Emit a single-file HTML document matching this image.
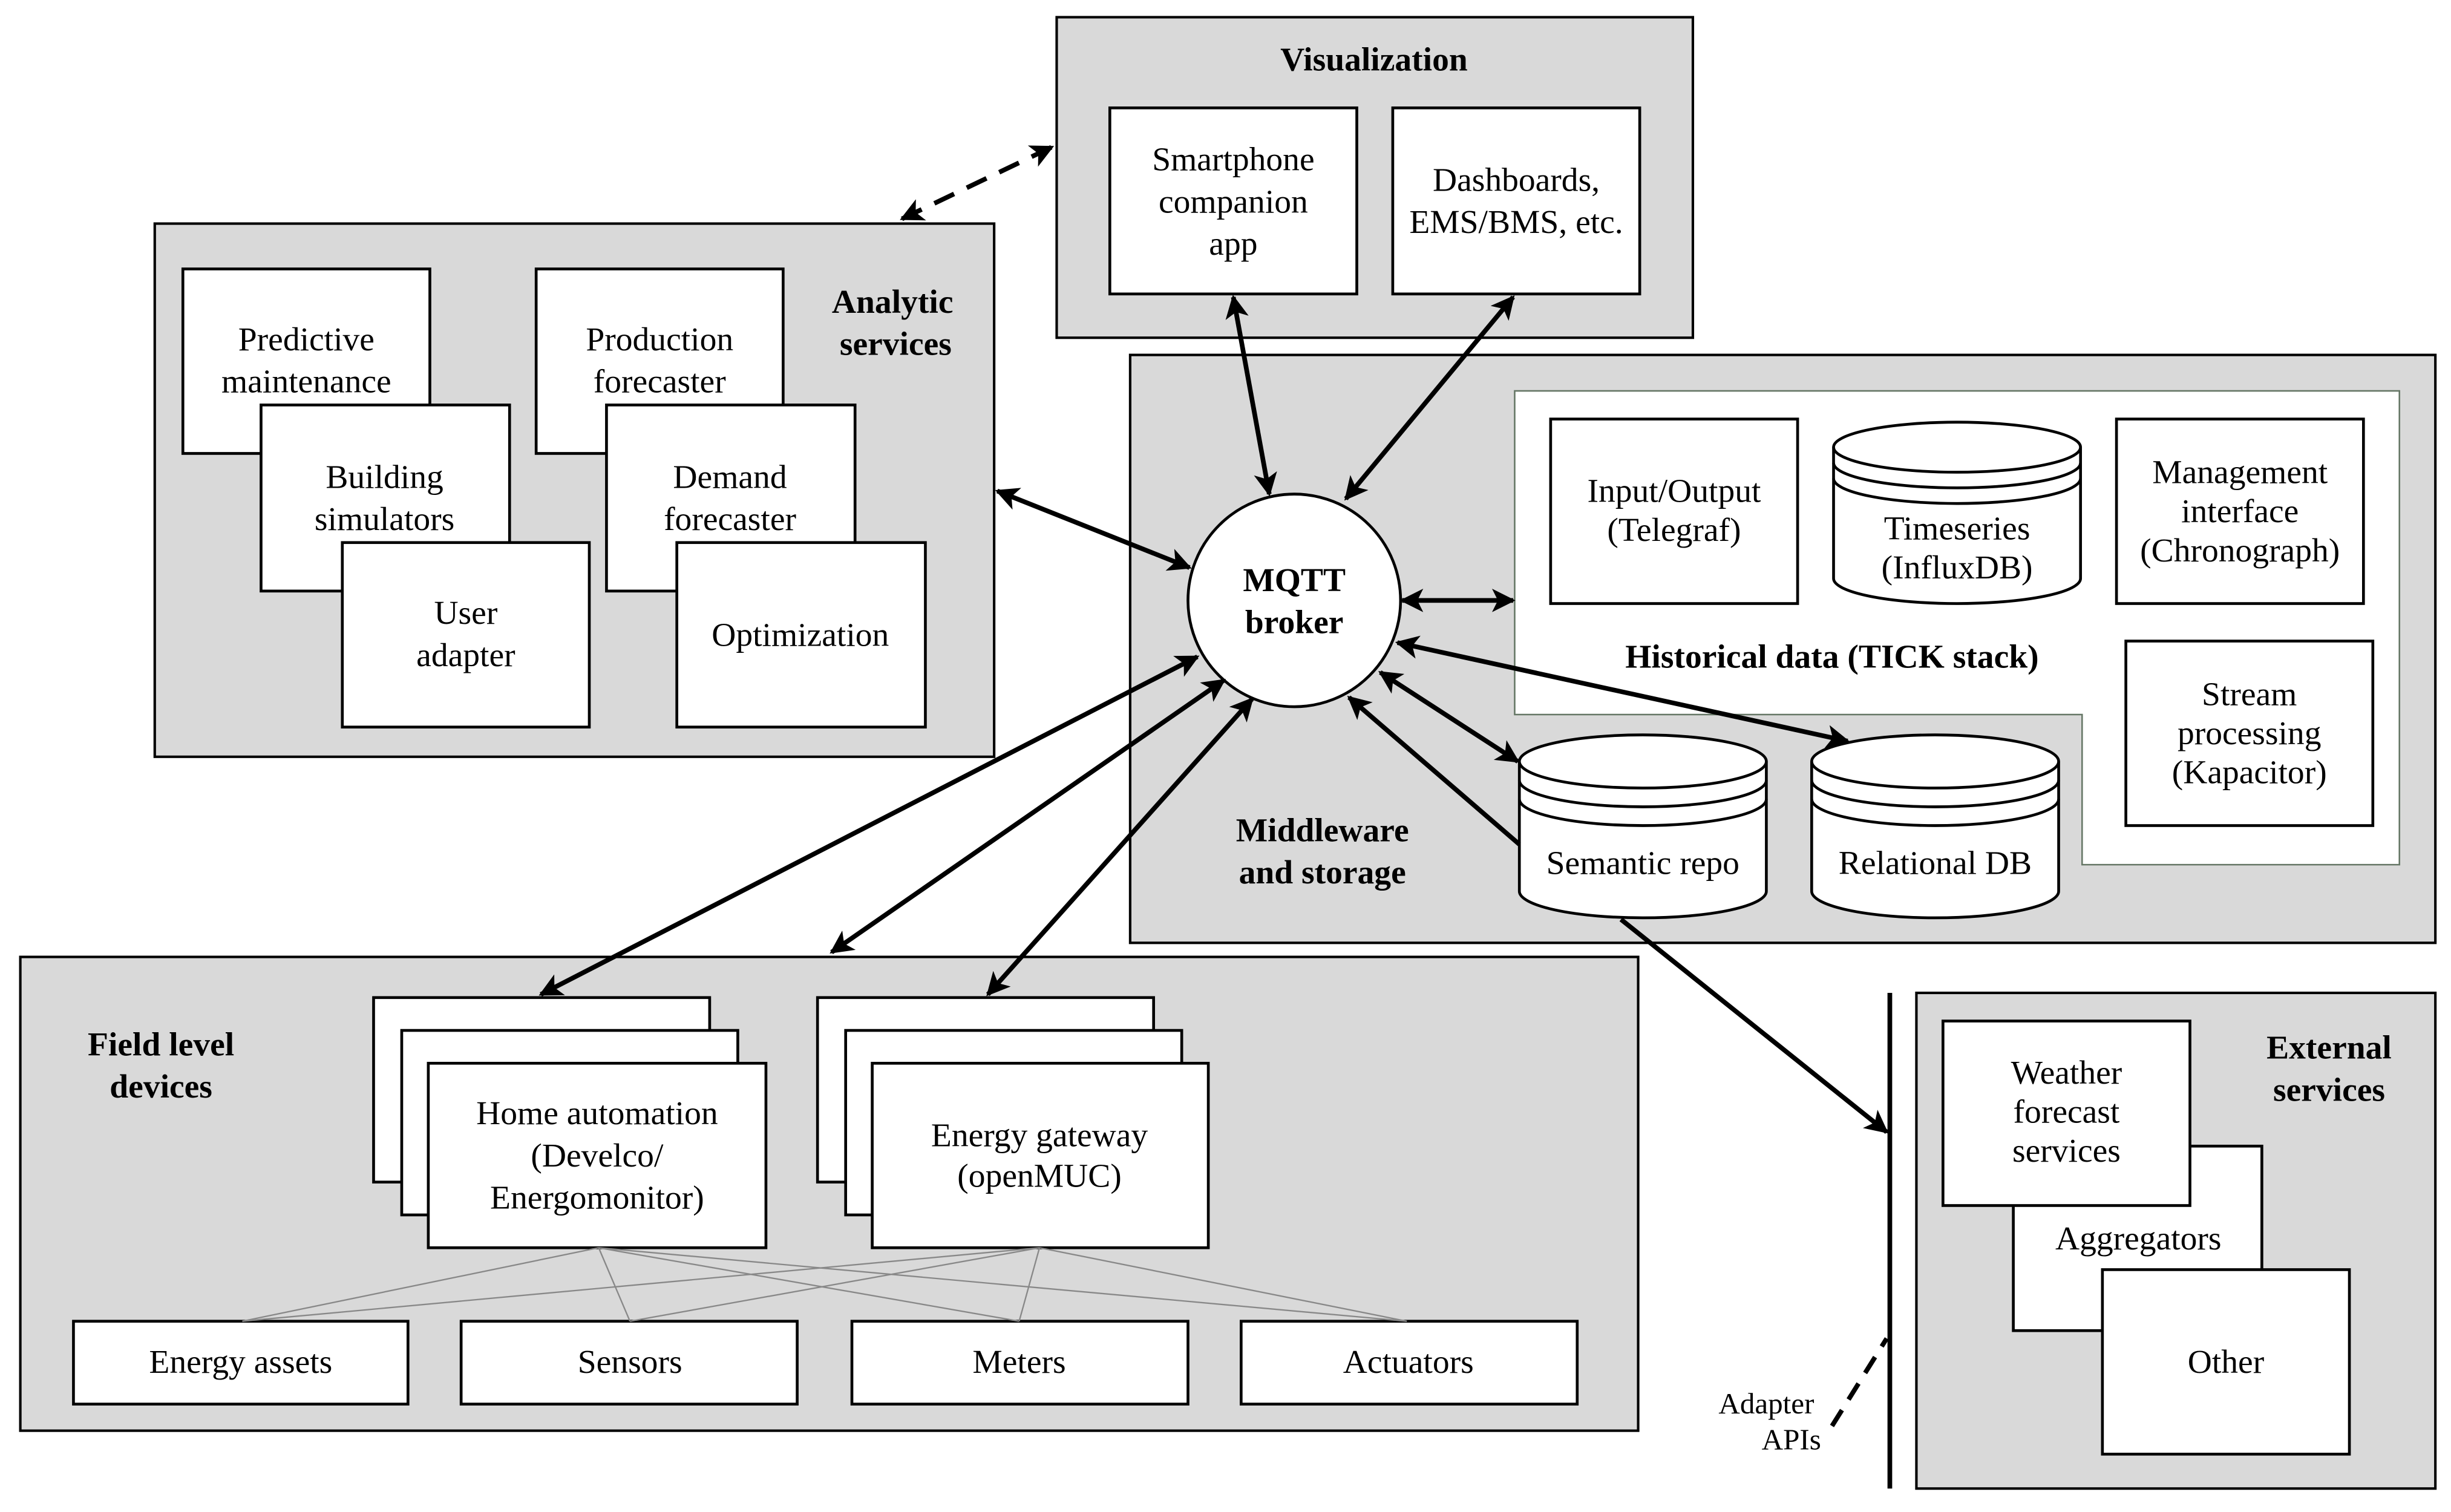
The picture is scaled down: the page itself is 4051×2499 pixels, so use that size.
<!DOCTYPE html>
<html><head><meta charset="utf-8"><style>
html,body{margin:0;padding:0;background:#fff}
svg{display:block}
text{font-family:"Liberation Serif",serif;font-size:21.5px;text-anchor:middle;fill:#000}
.b{font-weight:bold}
</style></head><body>
<svg width="4051" height="2499" viewBox="0 0 1568 967" preserveAspectRatio="none" xmlns="http://www.w3.org/2000/svg">
<defs>
<marker id="a" viewBox="0 0 10 10" refX="9" refY="5" markerWidth="5" markerHeight="5" orient="auto-start-reverse" markerUnits="strokeWidth"><path d="M0,0 L10,5 L0,10 L2.5,5 z" fill="#000"/></marker>
</defs>
<g stroke="#000" stroke-width="1.6">
<rect x="676" y="11" width="407" height="205" fill="#d9d9d9"/>
<rect x="99" y="143" width="537" height="341" fill="#d9d9d9"/>
<rect x="723" y="227" width="835" height="376" fill="#d9d9d9"/>
<rect x="13" y="612" width="1035" height="303" fill="#d9d9d9"/>
<rect x="1226" y="635" width="332" height="317" fill="#d9d9d9"/>
</g>
<path d="M969,250 H1535 V553 H1332 V457 H969 Z" fill="#fff" stroke="#667766" stroke-width="1"/>
<g stroke="#000" stroke-width="1.8" fill="#fff">
<rect x="710" y="69" width="158" height="119"/>
<rect x="891" y="69" width="158" height="119"/>
<rect x="117" y="172" width="158" height="118"/>
<rect x="167" y="259" width="159" height="119"/>
<rect x="219" y="347" width="158" height="118"/>
<rect x="343" y="172" width="158" height="118"/>
<rect x="388" y="259" width="159" height="119"/>
<rect x="433" y="347" width="159" height="118"/>
<rect x="992" y="268" width="158" height="118"/>
<rect x="1354" y="268" width="158" height="118"/>
<rect x="1360" y="410" width="158" height="118"/>
<rect x="239" y="638" width="215" height="118"/>
<rect x="257" y="659" width="215" height="118"/>
<rect x="274" y="680" width="216" height="118"/>
<rect x="523" y="638" width="215" height="118"/>
<rect x="541" y="659" width="215" height="118"/>
<rect x="558" y="680" width="215" height="118"/>
<rect x="47" y="845" width="214" height="53"/>
<rect x="295" y="845" width="215" height="53"/>
<rect x="545" y="845" width="215" height="53"/>
<rect x="794" y="845" width="215" height="53"/>
<rect x="1288" y="733" width="159" height="118"/>
<rect x="1345" y="812" width="158" height="118"/>
<rect x="1243" y="653" width="158" height="118"/>
<circle cx="828" cy="384" r="68"/>
</g>
<g stroke="#000" stroke-width="1.8" fill="#fff">
<path d="M1173,286 A79,16 0 0 1 1331,286 V370 A79,16 0 0 1 1173,370 Z"/>
<path d="M1173,286 A79,16 0 0 0 1331,286 M1173,296 A79,16 0 0 0 1331,296 M1173,306 A79,16 0 0 0 1331,306" fill="none"/>
<path d="M972,487 A79,17 0 0 1 1130,487 V570 A79,17 0 0 1 972,570 Z"/>
<path d="M972,487 A79,17 0 0 0 1130,487 M972,499 A79,17 0 0 0 1130,499 M972,511 A79,17 0 0 0 1130,511" fill="none"/>
<path d="M1159,487 A79,17 0 0 1 1317,487 V570 A79,17 0 0 1 1159,570 Z"/>
<path d="M1159,487 A79,17 0 0 0 1317,487 M1159,499 A79,17 0 0 0 1317,499 M1159,511 A79,17 0 0 0 1317,511" fill="none"/>
</g>
<g stroke="#888" stroke-width="0.9">
<path d="M383,798 L155,845 M383,798 L403,845 M383,798 L652,845 M383,798 L900,845"/>
<path d="M665,798 L155,845 M665,798 L403,845 M665,798 L652,845 M665,798 L900,845"/>
</g>
<g stroke="#000" stroke-width="3" fill="none">
<line x1="577" y1="140" x2="673" y2="94" stroke-dasharray="14,9" marker-start="url(#a)" marker-end="url(#a)"/>
<line x1="789" y1="190" x2="812" y2="316" marker-start="url(#a)" marker-end="url(#a)"/>
<line x1="968" y1="190" x2="861" y2="319" marker-start="url(#a)" marker-end="url(#a)"/>
<line x1="638" y1="314" x2="761" y2="363" marker-start="url(#a)" marker-end="url(#a)"/>
<line x1="897" y1="384" x2="968" y2="384" marker-start="url(#a)" marker-end="url(#a)"/>
<line x1="894" y1="411" x2="1182" y2="474" marker-start="url(#a)" marker-end="url(#a)"/>
<line x1="883" y1="430" x2="971" y2="487" marker-start="url(#a)" marker-end="url(#a)"/>
<line x1="972" y1="540" x2="863" y2="446" marker-end="url(#a)"/>
<line x1="766" y1="420" x2="346" y2="636" marker-start="url(#a)" marker-end="url(#a)"/>
<line x1="783" y1="435" x2="532" y2="609" marker-start="url(#a)" marker-end="url(#a)"/>
<line x1="801" y1="447" x2="632" y2="636" marker-start="url(#a)" marker-end="url(#a)"/>
<line x1="1037" y1="588" x2="1207" y2="724" marker-end="url(#a)"/>
<line x1="1209" y1="635" x2="1209" y2="952"/>
<line x1="1172" y1="912" x2="1207" y2="856" stroke-dasharray="12,8"/>
</g>
<text class="b" x="879" y="45">Visualization</text>
<text x="789" y="109">Smartphone</text><text x="789" y="136">companion</text><text x="789" y="163">app</text>
<text x="970" y="122">Dashboards,</text><text x="970" y="149">EMS/BMS, etc.</text>
<text class="b" x="571" y="200">Analytic</text><text class="b" x="573" y="227">services</text>
<text x="196" y="224">Predictive</text><text x="196" y="251">maintenance</text>
<text x="246" y="312">Building</text><text x="246" y="339">simulators</text>
<text x="298" y="399">User</text><text x="298" y="426">adapter</text>
<text x="422" y="224">Production</text><text x="422" y="251">forecaster</text>
<text x="467" y="312">Demand</text><text x="467" y="339">forecaster</text>
<text x="512" y="413">Optimization</text>
<text class="b" x="828" y="378">MQTT</text><text class="b" x="828" y="405">broker</text>
<text x="1071" y="321">Input/Output</text><text x="1071" y="346">(Telegraf)</text>
<text x="1252" y="345">Timeseries</text><text x="1252" y="370">(InfluxDB)</text>
<text x="1433" y="309">Management</text><text x="1433" y="334">interface</text><text x="1433" y="359">(Chronograph)</text>
<text x="1439" y="451">Stream</text><text x="1439" y="476">processing</text><text x="1439" y="501">(Kapacitor)</text>
<text class="b" x="1172" y="427">Historical data (TICK stack)</text>
<text class="b" x="846" y="538">Middleware</text><text class="b" x="846" y="565">and storage</text>
<text x="1051" y="559">Semantic repo</text>
<text x="1238" y="559">Relational DB</text>
<text class="b" x="103" y="675">Field level</text><text class="b" x="103" y="702">devices</text>
<text x="382" y="719">Home automation</text><text x="382" y="746">(Develco/</text><text x="382" y="773">Energomonitor)</text>
<text x="665" y="733">Energy gateway</text><text x="665" y="759">(openMUC)</text>
<text x="154" y="878">Energy assets</text>
<text x="403" y="878">Sensors</text>
<text x="652" y="878">Meters</text>
<text x="901" y="878">Actuators</text>
<text class="b" x="1490" y="677">External</text><text class="b" x="1490" y="704">services</text>
<text x="1322" y="693">Weather</text><text x="1322" y="718">forecast</text><text x="1322" y="743">services</text>
<text x="1368" y="799">Aggregators</text>
<text x="1424" y="878">Other</text>
<text x="1130" y="904" style="font-size:19px">Adapter</text><text x="1146" y="927" style="font-size:19px">APIs</text>
</svg>
</body></html>
